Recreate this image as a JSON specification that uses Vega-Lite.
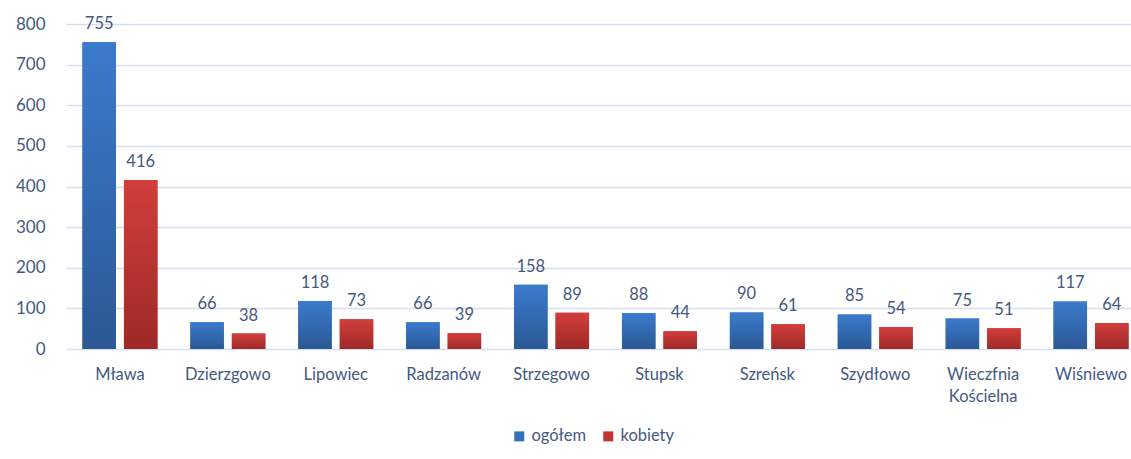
{
  "$schema": "https://vega.github.io/schema/vega-lite/v6.json",
  "autosize": {"type": "none"},
  "padding": {"left": 66, "top": 24, "right": 0, "bottom": 110},
  "width": 1079,
  "height": 325,
  "background": "white",
  "config": {
    "view": {"stroke": null},
    "font": "Lato",
    "axis": {"labelFont": "Lato", "labelColor": "#44597f"},
    "legend": {"labelFont": "Lato", "labelColor": "#44597f"}
  },
  "data": {
    "values": [
      {"gmina": "Mława", "series": "ogółem", "value": 755},
      {"gmina": "Mława", "series": "kobiety", "value": 416},
      {"gmina": "Dzierzgowo", "series": "ogółem", "value": 66},
      {"gmina": "Dzierzgowo", "series": "kobiety", "value": 38},
      {"gmina": "Lipowiec", "series": "ogółem", "value": 118},
      {"gmina": "Lipowiec", "series": "kobiety", "value": 73},
      {"gmina": "Radzanów", "series": "ogółem", "value": 66},
      {"gmina": "Radzanów", "series": "kobiety", "value": 39},
      {"gmina": "Strzegowo", "series": "ogółem", "value": 158},
      {"gmina": "Strzegowo", "series": "kobiety", "value": 89},
      {"gmina": "Stupsk", "series": "ogółem", "value": 88},
      {"gmina": "Stupsk", "series": "kobiety", "value": 44},
      {"gmina": "Szreńsk", "series": "ogółem", "value": 90},
      {"gmina": "Szreńsk", "series": "kobiety", "value": 61},
      {"gmina": "Szydłowo", "series": "ogółem", "value": 85},
      {"gmina": "Szydłowo", "series": "kobiety", "value": 54},
      {"gmina": "Wieczfnia Kościelna", "series": "ogółem", "value": 75},
      {"gmina": "Wieczfnia Kościelna", "series": "kobiety", "value": 51},
      {"gmina": "Wiśniewo", "series": "ogółem", "value": 117},
      {"gmina": "Wiśniewo", "series": "kobiety", "value": 64}
    ]
  },
  "encoding": {
    "x": {
      "field": "gmina", "type": "nominal", "sort": null,
      "scale": {"paddingInner": 0.305, "paddingOuter": 0.1525},
      "axis": {
        "title": null, "labelAngle": 0, "domain": false, "ticks": false,
        "labelFontSize": 16.5, "labelPadding": 17, "labelLineHeight": 22,
        "labelExpr": "split(datum.label, ' ')"
      }
    },
    "xOffset": {
      "field": "series", "type": "nominal",
      "scale": {"domain": ["ogółem", "kobiety"], "paddingInner": 0.193, "paddingOuter": 0}
    },
    "y": {
      "field": "value", "type": "quantitative",
      "scale": {"domain": [0, 800], "nice": false},
      "axis": {
        "title": null, "domain": false, "ticks": false,
        "values": [0, 100, 200, 300, 400, 500, 600, 700, 800],
        "labelOverlap": false,
        "labelFontSize": 17, "labelPadding": 21,
        "gridColor": "#d5dff0", "gridWidth": 1.5
      }
    }
  },
  "layer": [
    {
      "mark": {"type": "bar"},
      "encoding": {
        "color": {
          "field": "series", "type": "nominal",
          "scale": {"domain": ["ogółem", "kobiety"], "range": ["#3470ba", "#c13533"]},
          "legend": {
            "title": null, "orient": "none", "direction": "horizontal",
            "legendX": 445, "legendY": 404, "padding": 0,
            "symbolType": "square", "symbolSize": 100, "symbolStrokeWidth": 0,
            "labelFontSize": 16.5, "columnPadding": 14, "labelOffset": 4
          }
        }
      }
    },
    {
      "transform": [{"filter": "datum.series === 'ogółem'"}],
      "mark": {
        "type": "bar",
        "fill": {"gradient": "linear", "x1": 0, "y1": 0, "x2": 0, "y2": 1,
          "stops": [{"offset": 0, "color": "#3b7bcc"}, {"offset": 1, "color": "#2b5895"}]}
      }
    },
    {
      "transform": [{"filter": "datum.series === 'kobiety'"}],
      "mark": {
        "type": "bar",
        "fill": {"gradient": "linear", "x1": 0, "y1": 0, "x2": 0, "y2": 1,
          "stops": [{"offset": 0, "color": "#d23e3b"}, {"offset": 1, "color": "#9e2927"}]}
      }
    },
    {
      "mark": {"type": "text", "baseline": "alphabetic", "dy": -13, "fontSize": 16.5, "color": "#44597f"},
      "encoding": {"text": {"field": "value", "type": "quantitative"}}
    }
  ]
}
